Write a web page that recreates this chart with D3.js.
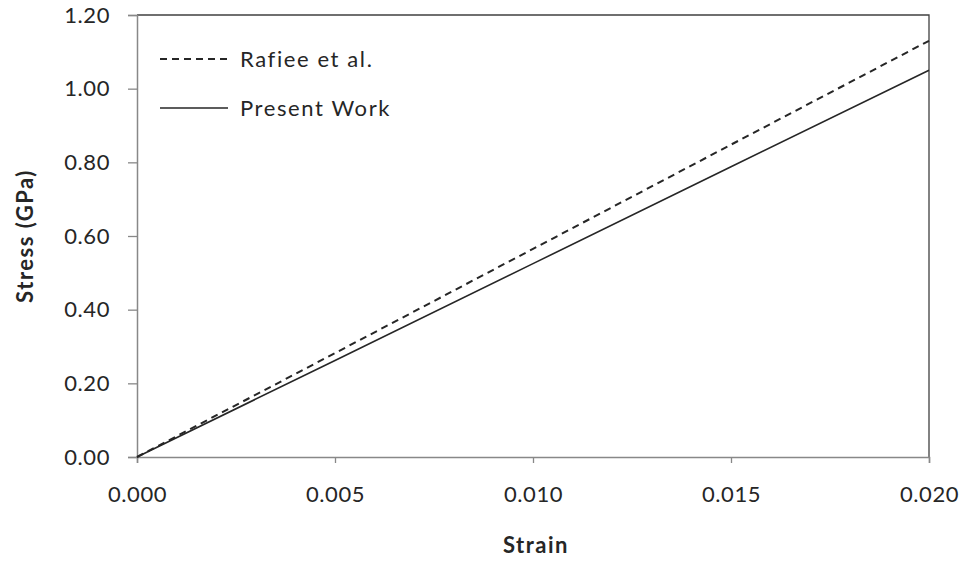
<!DOCTYPE html>
<html>
<head>
<meta charset="utf-8">
<script src="https://cdn.jsdelivr.net/npm/d3@7"></script>
<style>
  body { margin: 0; background: #fff; }
  svg { display: block; font-family: Lato, "Open Sans", sans-serif; }
</style>
</head>
<body>
<svg id="chart" width="968" height="563"></svg>
<script>
// Stress–strain data (strain, stress in GPa)
const strain = [0.000, 0.005, 0.010, 0.015, 0.020];
const rafieeStress = [0.00, 0.282, 0.565, 0.848, 1.13];
const presentStress = [0.00, 0.262, 0.525, 0.788, 1.05];

const xTicks = [0.000, 0.005, 0.010, 0.015, 0.020];
const yTicks = [0.00, 0.20, 0.40, 0.60, 0.80, 1.00, 1.20];

const seriesNames = ["Rafiee et al.", "Present Work"];

const svg = d3.select("#chart");
const plotLeft = 137, plotRight = 929, plotTop = 15, plotBottom = 457;

const x = d3.scaleLinear().domain([0, 0.020]).range([plotLeft, plotRight]);
const y = d3.scaleLinear().domain([0, 1.20]).range([plotBottom, plotTop]);

// Plot frame: top and right edges
svg.append("path")
  .attr("d", `M${plotLeft},${plotTop}H${plotRight}V${plotBottom}`)
  .attr("fill", "none").attr("stroke", "#404040").attr("stroke-width", 1.3);

// Axes
const xAxis = svg.append("g").attr("transform", `translate(0,${plotBottom})`)
  .call(d3.axisBottom(x).tickValues(xTicks).tickFormat(d3.format(".3f")).tickSize(6).tickPadding(23));
const yAxis = svg.append("g").attr("transform", `translate(${plotLeft},0)`)
  .call(d3.axisLeft(y).tickValues(yTicks).tickFormat(d3.format(".2f")).tickSize(9).tickPadding(18));

[xAxis, yAxis].forEach(g => {
  g.select(".domain").attr("stroke", "#888").attr("stroke-width", 1.5);
  g.selectAll(".tick line").attr("stroke", "#888").attr("stroke-width", 1.3);
  g.selectAll(".tick text").attr("fill", "#262626")
    .style("font-size", "22px").style("font-family", "Lato, 'Open Sans', sans-serif")
    .style("letter-spacing", "0.6px");
});

// Series lines
const line = d3.line().x((d, i) => x(strain[i])).y(d => y(d));

svg.append("path").datum(presentStress)
  .attr("d", line).attr("fill", "none")
  .attr("stroke", "#262626").attr("stroke-width", 1.6);

svg.append("path").datum(rafieeStress)
  .attr("d", line).attr("fill", "none")
  .attr("stroke", "#262626").attr("stroke-width", 2)
  .attr("stroke-dasharray", "7,5");

// Legend
const legend = svg.append("g");
const legendRows = [
  { name: seriesNames[0], dash: "7,5", yPos: 59, width: 2 },
  { name: seriesNames[1], dash: null, yPos: 108, width: 1.6 }
];
legendRows.forEach(r => {
  legend.append("line")
    .attr("x1", 160).attr("x2", 228).attr("y1", r.yPos).attr("y2", r.yPos)
    .attr("stroke", "#262626").attr("stroke-width", r.width)
    .attr("stroke-dasharray", r.dash);
  legend.append("text")
    .attr("x", 240).attr("y", r.yPos).attr("dy", "0.35em")
    .attr("fill", "#262626").style("font-size", "22px").style("letter-spacing", "1.6px")
    .text(r.name);
});

// Axis titles
svg.append("text")
  .attr("x", (plotLeft + plotRight) / 2 + 3).attr("y", 553)
  .attr("text-anchor", "middle").attr("fill", "#262626")
  .style("font-size", "22px").style("font-weight", "bold").style("letter-spacing", "1.5px")
  .text("Strain");

svg.append("text")
  .attr("transform", `translate(33,${(plotTop + plotBottom) / 2}) rotate(-90)`)
  .attr("text-anchor", "middle").attr("fill", "#262626")
  .style("font-size", "22px").style("font-weight", "bold").style("letter-spacing", "1.5px")
  .text("Stress (GPa)");
</script>
</body>
</html>
